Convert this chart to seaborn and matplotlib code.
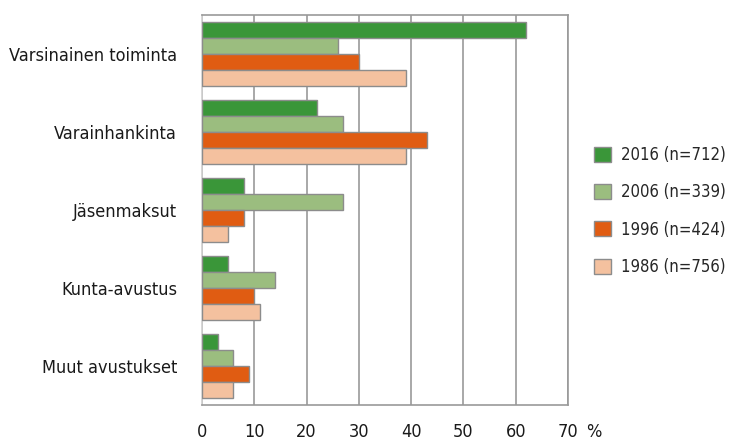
import matplotlib
matplotlib.use("Agg")
import matplotlib.pyplot as plt
from matplotlib.patches import Patch
import seaborn as sns
import pandas as pd

categories = ["Varsinainen toiminta", "Varainhankinta", "Jäsenmaksut",
              "Kunta-avustus", "Muut avustukset"]
series = ["2016 (n=712)", "2006 (n=339)", "1996 (n=424)", "1986 (n=756)"]
v2016 = [62, 22, 8, 5, 3]
v2006 = [26, 27, 27, 14, 6]
v1996 = [30, 43, 8, 10, 9]
v1986 = [39, 39, 5, 11, 6]
x_ticks = [0, 10, 20, 30, 40, 50, 60, 70]

colors = ["#3a9639", "#9bbd7f", "#e05c12", "#f4c19f"]

rows = []
for name, vals in zip(series, [v2016, v2006, v1996, v1986]):
    for cat, v in zip(categories, vals):
        rows.append({"Kategoria": cat, "Vuosi": name, "Osuus": v})
df = pd.DataFrame(rows)

sns.set_style("white")
plt.rcParams["font.family"] = ["DejaVu Sans"]
plt.rcParams["font.stretch"] = "condensed"

fig = plt.figure(figsize=(7.36, 4.42), dpi=100)
ax = fig.add_axes([202 / 736, 1 - 405 / 442, 366 / 736, 390 / 442])

sns.barplot(data=df, y="Kategoria", x="Osuus", hue="Vuosi", orient="h",
            order=categories, hue_order=series, palette=colors, saturation=1,
            width=0.82, edgecolor="#8c8c8c", linewidth=1.0,
            errorbar=None, legend=False, ax=ax, zorder=3)

fs = 13
ax.set_xlim(0, 70)
ax.set_xticks(x_ticks)
ax.set_xticklabels([str(t) for t in x_ticks], fontsize=fs, color="#1a1a1a")
ax.tick_params(axis="x", length=0, pad=13)
ax.tick_params(axis="y", length=0, pad=18, labelsize=fs, labelcolor="#1a1a1a")
ax.set_xlabel("")
ax.set_ylabel("")
ax.xaxis.grid(True, color="#999999", linewidth=1.2, zorder=0)
ax.yaxis.grid(False)
ax.set_axisbelow(True)
for side in ["top", "right", "bottom"]:
    ax.spines[side].set_color("#999999")
    ax.spines[side].set_linewidth(1.2)
ax.spines["left"].set_color("#d0d0d0")
ax.spines["left"].set_linewidth(1.2)

fig.text(586 / 736, 1 - 432 / 442, "%", fontsize=fs, color="#1a1a1a",
         ha="left", va="center")

handles = [Patch(facecolor=c, edgecolor="#8c8c8c", linewidth=1.0) for c in colors]
fig.legend(handles, series, loc="center left",
           bbox_to_anchor=(594 / 736, 1 - 211 / 442), frameon=False,
           fontsize=12, handlelength=1.0, handleheight=1.0,
           handletextpad=0.6, labelspacing=1.15, borderaxespad=0,
           borderpad=0)

fig.savefig("out.png", dpi=100)
